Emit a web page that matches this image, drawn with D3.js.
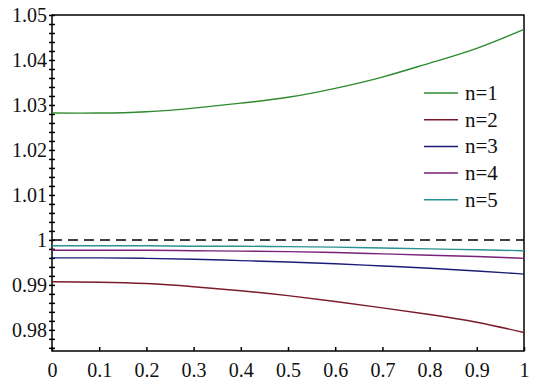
<!DOCTYPE html>
<html>
<head>
<meta charset="utf-8">
<script src="https://cdn.jsdelivr.net/npm/d3@7"></script>
<style>
  body { margin: 0; background: #fff; }
  svg { display: block; }
  svg text { font-family: 'Liberation Serif', serif; }
</style>
</head>
<body>
<div id="chart"></div>
<script>
// data
var xs = [0, 0.1, 0.2, 0.3, 0.4, 0.5, 0.6, 0.7, 0.8, 0.9, 1]
var n1 = [1.0282, 1.0282, 1.0285, 1.0293, 1.0304, 1.0317, 1.0337, 1.0362, 1.0393, 1.0426, 1.0468]
var n2 = [0.9907, 0.9906, 0.9903, 0.9896, 0.9887, 0.9876, 0.9863, 0.9849, 0.9834, 0.9817, 0.9794]
var n3 = [0.9960, 0.9960, 0.9959, 0.9957, 0.9954, 0.9951, 0.9947, 0.9942, 0.9937, 0.9931, 0.9924]
var n4 = [0.9977, 0.9977, 0.9977, 0.9976, 0.9975, 0.9974, 0.9972, 0.9969, 0.9966, 0.9963, 0.9959]
var n5 = [0.9987, 0.9987, 0.9987, 0.9986, 0.9986, 0.9985, 0.9984, 0.9982, 0.9980, 0.9978, 0.9976]
var seriesNames = ['n=1', 'n=2', 'n=3', 'n=4', 'n=5']
var seriesColors = ['#2f8a2f', '#7a1a2a', '#1c1c78', '#7a1f7a', '#2a9090']
var refLevel = 1

var xTicks = [0, 0.1, 0.2, 0.3, 0.4, 0.5, 0.6, 0.7, 0.8, 0.9, 1]
var xTickLabels = ['0', '0.1', '0.2', '0.3', '0.4', '0.5', '0.6', '0.7', '0.8', '0.9', '1']
var yTicks = [0.98, 0.99, 1, 1.01, 1.02, 1.03, 1.04, 1.05]
var yTickLabels = ['0.98', '0.99', '1', '1.01', '1.02', '1.03', '1.04', '1.05']

var serif = "'Liberation Serif', serif"

var margin = {top: 15, right: 16, bottom: 33, left: 52},
  width = 540 - margin.left - margin.right,
  height = 384 - margin.top - margin.bottom

var svg = d3.select('#chart')
  .append('svg')
  .attr('width', 540)
  .attr('height', 384)
  .append('g')
  .attr('transform', 'translate(' + margin.left + ',' + margin.top + ')')

var x = d3.scaleLinear().domain([0, 1]).range([0, width])
var y = d3.scaleLinear().domain([0.9753, 1.05]).range([height, 0])

// minor ticks on y, crossing the axis
var yMinor = d3.range(0.976, 1.0501, 0.002)
svg.append('g')
  .call(d3.axisLeft(y).tickValues(yMinor).tickSize(3).tickFormat(''))
  .call(function (g) { g.select('.domain').remove() })
svg.append('g')
  .call(d3.axisRight(y).tickValues(yMinor).tickSize(3).tickFormat(''))
  .call(function (g) { g.select('.domain').remove() })
svg.selectAll('.tick line').attr('stroke', '#000').attr('stroke-width', 1.5)

// y labels
var yg = svg.append('g')
  .call(d3.axisLeft(y).tickValues(yTicks).tickSize(0).tickPadding(5)
    .tickFormat(function (d, i) { return yTickLabels[i] }))
  .attr('font-family', serif)
  .attr('font-size', 20)
yg.select('.domain').remove()
yg.selectAll('text').attr('fill', '#111')

// x axis
var xg = svg.append('g')
  .attr('transform', 'translate(0,' + height + ')')
  .call(d3.axisBottom(x).tickValues(xTicks).tickSize(-4).tickPadding(12)
    .tickFormat(function (d, i) { return xTickLabels[i] }))
  .attr('font-family', serif)
  .attr('font-size', 20)
xg.select('.domain').remove()
xg.selectAll('.tick line').attr('stroke', '#000').attr('stroke-width', 1.5)
xg.selectAll('text').attr('fill', '#111')

// frame
svg.append('rect')
  .attr('x', 0).attr('y', 0)
  .attr('width', width).attr('height', height)
  .attr('fill', 'none')
  .attr('stroke', '#000')
  .attr('stroke-width', 1.5)

// reference dashed line
svg.append('line')
  .attr('x1', x(0)).attr('x2', x(1))
  .attr('y1', y(refLevel)).attr('y2', y(refLevel))
  .attr('stroke', '#000')
  .attr('stroke-width', 1.5)
  .attr('stroke-dasharray', '10,6')

var allSeries = [n1, n2, n3, n4, n5]
var line = d3.line()
  .x(function (d, i) { return x(xs[i]) })
  .y(function (d) { return y(d) })
  .curve(d3.curveNatural)

allSeries.forEach(function (s, k) {
  svg.append('path')
    .datum(s)
    .attr('fill', 'none')
    .attr('stroke', seriesColors[k])
    .attr('stroke-width', 1.4)
    .attr('d', line)
})

// legend
var leg = svg.append('g')
  .attr('font-family', serif)
  .attr('font-size', 21)
seriesNames.forEach(function (name, k) {
  var ly = 78 + k * 26.7
  leg.append('line')
    .attr('x1', 424 - margin.left).attr('x2', 458 - margin.left)
    .attr('y1', ly).attr('y2', ly)
    .attr('stroke', seriesColors[k])
    .attr('stroke-width', 1.5)
  leg.append('text')
    .attr('x', 465 - margin.left)
    .attr('y', ly + 7)
    .attr('fill', '#111')
    .text(name)
})
</script>
</body>
</html>
